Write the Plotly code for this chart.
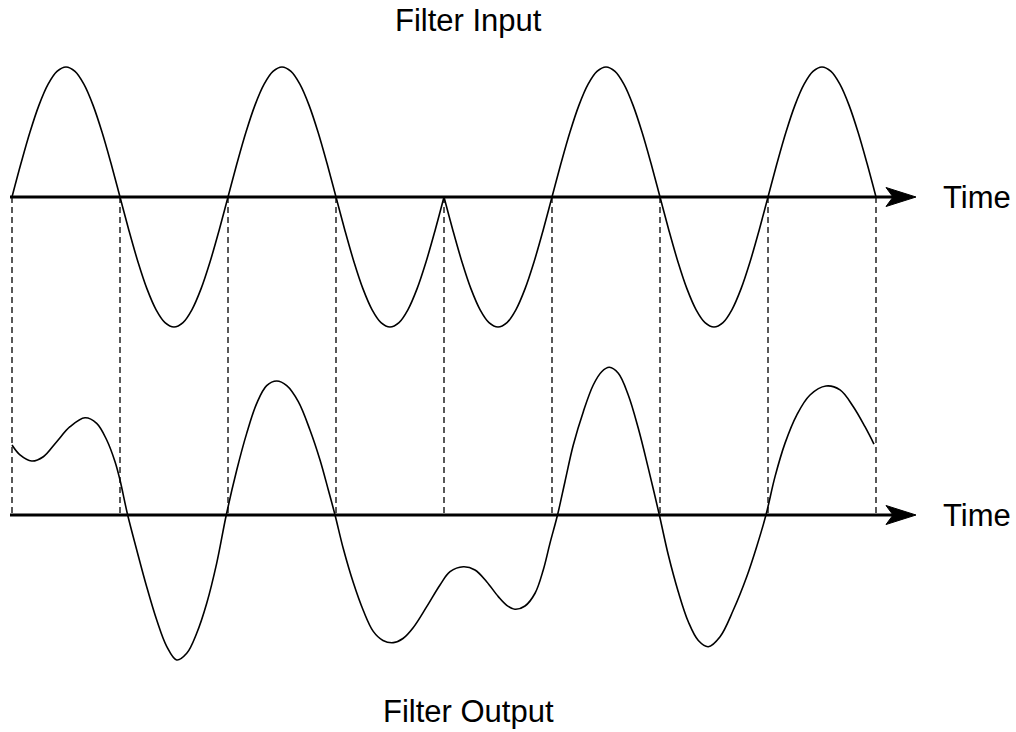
import plotly.graph_objects as go

# ---------------- data (time in half-cycles, amplitude in units of input peak) ----------------
# Input: a sine wave with one phase flip at t = 4
input_half_cycle_signs = [1, -1, 1, -1, -1, 1, -1, 1]
half_cycle_offsets = [0, 1/12, 2/12, 3/12, 4/12, 5/12, 6/12, 7/12, 8/12, 9/12, 10/12, 11/12, 1]
half_cycle_levels = [0.0, 0.259, 0.5, 0.707, 0.866, 0.966, 1.0, 0.966, 0.866, 0.707, 0.5, 0.259, 0.0]

# Output: filtered signal
output_t = [0.0, 0.074, 0.182, 0.290, 0.414, 0.537, 0.676, 0.784, 0.877, 0.954,
            1.0, 1.071, 1.155, 1.247, 1.340, 1.432, 1.525, 1.618, 1.710, 1.803,
            1.895, 1.984, 2.081, 2.173, 2.266, 2.358, 2.451, 2.544, 2.651, 2.759,
            2.852, 2.929, 2.991, 3.068, 3.160, 3.253, 3.345, 3.435, 3.531, 3.620,
            3.716, 3.840, 3.963, 4.056, 4.179, 4.287, 4.395, 4.503, 4.581, 4.657,
            4.750, 4.843, 4.919, 4.981, 5.051, 5.120, 5.197, 5.290, 5.382, 5.460,
            5.531, 5.614, 5.706, 5.799, 5.892, 5.994, 6.077, 6.169, 6.262, 6.355,
            6.447, 6.556, 6.679, 6.803, 6.895, 6.981, 7.065, 7.157, 7.266, 7.389,
            7.537, 7.667, 7.790, 7.898, 7.981]
output_y = [0.538, 0.462, 0.415, 0.448, 0.564, 0.679, 0.748, 0.705, 0.577, 0.410,
            0.269, 0.0, -0.269, -0.552, -0.808, -1.010, -1.115, -1.064, -0.910, -0.679,
            -0.372, 0.0, 0.346, 0.628, 0.859, 0.995, 1.031, 0.995, 0.872, 0.654,
            0.423, 0.192, 0.0, -0.260, -0.520, -0.735, -0.895, -0.965, -0.982, -0.950,
            -0.865, -0.705, -0.538, -0.436, -0.398, -0.423, -0.513, -0.628, -0.695, -0.725,
            -0.700, -0.602, -0.423, -0.218, 0.0, 0.256, 0.538, 0.795, 1.0, 1.102,
            1.136, 1.090, 0.923, 0.667, 0.359, 0.0, -0.308, -0.590, -0.821, -0.965,
            -1.013, -0.936, -0.731, -0.475, -0.244, 0.0, 0.295, 0.551, 0.769, 0.923,
            0.992, 0.962, 0.833, 0.679, 0.546]

crossing_times = [0, 1, 2, 3, 4, 5, 6, 7, 8]
axis_label = "Time"
top_title = "Filter Input"
bottom_title = "Filter Output"

# ---------------- build input curve (two pieces; cusp at the phase flip) ----------------
def build_input(start, stop):
    ts, ys = [], []
    for k in range(start, stop):
        s = input_half_cycle_signs[k]
        for j, (o, lv) in enumerate(zip(half_cycle_offsets, half_cycle_levels)):
            if j == 0 and k > start:
                continue
            ts.append(k + o)
            ys.append(s * lv)
    return ts, ys

in1_t, in1_y = build_input(0, 4)
in2_t, in2_y = build_input(4, 8)

# ---------------- geometry ----------------
W, H = 1016, 732
px_per_t = 108.0
px_per_amp = 130.0
x0_px = 12.0
top_axis_px = 197.0
bot_axis_px = 515.0

x_range = [-x0_px / px_per_t, (W - x0_px) / px_per_t]
y1_range = [(top_axis_px - H) / px_per_amp, top_axis_px / px_per_amp]
y2_range = [(bot_axis_px - H) / px_per_amp, bot_axis_px / px_per_amp]

def tx(px):
    return (px - x0_px) / px_per_t

fig = go.Figure()

# dashed verticals (drawn on y1 from 0 down to the lower axis)
drop = -(bot_axis_px - top_axis_px) / px_per_amp
for ct in crossing_times:
    fig.add_trace(go.Scatter(x=[ct, ct], y=[0, drop], mode="lines",
                             line=dict(color="#222222", width=1.5, dash="6px,4px"),
                             hoverinfo="skip", showlegend=False, yaxis="y"))

line_style = dict(color="black", width=1.6, shape="spline", smoothing=1.0)
fig.add_trace(go.Scatter(x=in1_t, y=in1_y, mode="lines", line=line_style,
                         hoverinfo="skip", showlegend=False, yaxis="y"))
fig.add_trace(go.Scatter(x=in2_t, y=in2_y, mode="lines", line=line_style,
                         hoverinfo="skip", showlegend=False, yaxis="y"))
fig.add_trace(go.Scatter(x=output_t, y=output_y, mode="lines", line=line_style,
                         hoverinfo="skip", showlegend=False, yaxis="y2"))

# axes with arrow heads
shapes = []
for yref in ["y", "y2"]:
    shapes.append(dict(type="line", xref="x", yref=yref, x0=tx(10), x1=tx(893),
                       y0=0, y1=0, line=dict(color="black", width=3)))
    a = 9.5 / px_per_amp
    path = (f"M {tx(886)},{a} L {tx(916)},0 L {tx(886)},{-a} "
            f"L {tx(893)},0 Z")
    shapes.append(dict(type="path", xref="x", yref=yref, path=path,
                       fillcolor="black", line=dict(color="black", width=1)))

font = dict(family="Arial, Liberation Sans, sans-serif", size=31, color="black")
annotations = [
    dict(x=tx(941), y=0, xref="x", yref="y", text=axis_label, showarrow=False,
         xanchor="left", yanchor="middle", font=font),
    dict(x=tx(941), y=0, xref="x", yref="y2", text=axis_label, showarrow=False,
         xanchor="left", yanchor="middle", font=font),
    dict(x=tx(468), y=(top_axis_px - 20) / px_per_amp, xref="x", yref="y",
         text=top_title, showarrow=False, xanchor="center", yanchor="middle", font=font),
    dict(x=tx(468), y=(bot_axis_px - 711) / px_per_amp, xref="x", yref="y2",
         text=bottom_title, showarrow=False, xanchor="center", yanchor="middle", font=font),
]

fig.update_layout(
    width=W, height=H, margin=dict(l=0, r=0, t=0, b=0),
    paper_bgcolor="white", plot_bgcolor="white",
    xaxis=dict(range=x_range, visible=False, fixedrange=True),
    yaxis=dict(range=y1_range, visible=False, fixedrange=True),
    yaxis2=dict(range=y2_range, visible=False, overlaying="y", fixedrange=True),
    shapes=shapes, annotations=annotations, showlegend=False, hovermode=False,
)

fig.write_html("out.html", config={"displayModeBar": False},
               post_script="document.body.style.margin='0px';")
